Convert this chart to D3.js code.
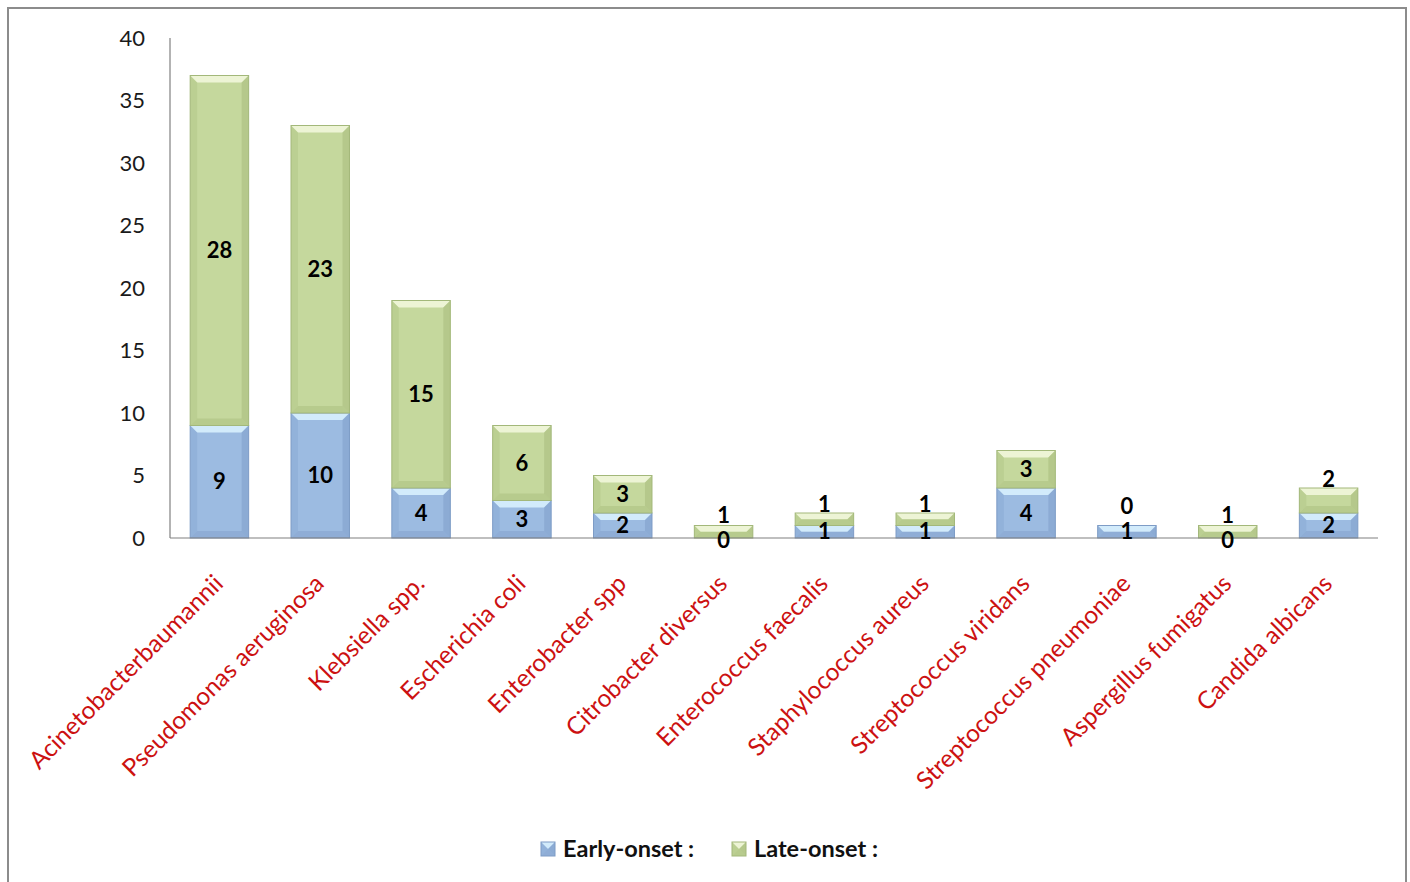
<!DOCTYPE html>
<html>
<head>
<meta charset="utf-8">
<script src="https://cdn.jsdelivr.net/npm/d3@7"></script>
<style>
  body { margin: 0; background: #fff; }
  svg { display: block; font-family: Lato, "Open Sans", sans-serif; }
</style>
</head>
<body>
<svg id="chart" width="1410" height="882"></svg>
<script>
// organisms on the x axis
var organisms = ["Acinetobacterbaumannii", "Pseudomonas aeruginosa", "Klebsiella spp.",
    "Escherichia coli", "Enterobacter spp", "Citrobacter diversus", "Enterococcus faecalis",
    "Staphylococcus aureus", "Streptococcus viridans", "Streptococcus pneumoniae",
    "Aspergillus fumigatus", "Candida albicans"];
// counts
var earlyOnset = [9, 10, 4, 3, 2, 0, 1, 1, 4, 1, 0, 2];
var lateOnset  = [28, 23, 15, 6, 3, 1, 1, 1, 3, 0, 1, 2];
var seriesNames = ["Early-onset :", "Late-onset :"];
var yTicks = [0, 5, 10, 15, 20, 25, 30, 35, 40];

var colors = [
    {fill: "#9cbbe1", light: "#dcf3ff", dark: "#6f8fbd", edge: "#7e9cc6"},
    {fill: "#c5d89d", light: "#f3f9df", dark: "#97ad6b", edge: "#a3b87a"}
];

var svg = d3.select("#chart");
var plotLeft = 170, plotRight = 1378, plotTop = 38, plotBottom = 538;

// outer frame (no bottom edge in the reference)
svg.append("path")
    .attr("d", "M8,882 V8 H1406 V882")
    .attr("fill", "none").attr("stroke", "#8c8c8c").attr("stroke-width", 2);

var xScale = d3.scaleBand().domain(organisms).range([plotLeft, plotRight]).paddingInner(0.42).paddingOuter(0.2);
var yScale = d3.scaleLinear().domain([0, 40]).range([plotBottom, plotTop]);

// stack
var rows = organisms.map(function(o, i) {
    return {name: o, early: earlyOnset[i], late: lateOnset[i]};
});
var series = d3.stack().keys(["early", "late"])(rows);

// y axis
svg.append("line").attr("x1", plotLeft).attr("x2", plotLeft).attr("y1", plotTop).attr("y2", plotBottom)
    .attr("stroke", "#808080").attr("stroke-width", 1.2);
svg.selectAll(".ytick").data(yTicks).enter().append("text")
    .attr("x", 145).attr("y", function(d) { return yScale(d); })
    .attr("dy", "0.35em").attr("text-anchor", "end")
    .attr("font-size", 22).attr("fill", "#1a1a1a")
    .text(function(d) { return d; });

// bars with a simple bevel look
function bevelBar(g, x, y, w, h, c) {
    if (h <= 0) return;
    var b = Math.min(7, h / 2);
    g.append("rect").attr("x", x).attr("y", y).attr("width", w).attr("height", h).attr("fill", c.fill);
    // top light strip
    g.append("path").attr("d", "M" + x + "," + y + "h" + w + "l" + (-b) + "," + b + "h" + (-(w - 2 * b)) + "z")
        .attr("fill", c.light).attr("opacity", 0.85);
    // bottom shade
    g.append("path").attr("d", "M" + x + "," + (y + h) + "h" + w + "l" + (-b) + "," + (-b) + "h" + (-(w - 2 * b)) + "z")
        .attr("fill", c.dark).attr("opacity", 0.3);
    // sides
    g.append("path").attr("d", "M" + x + "," + y + "l" + b + "," + b + "v" + (h - 2 * b) + "l" + (-b) + "," + b + "z")
        .attr("fill", c.dark).attr("opacity", 0.2);
    g.append("path").attr("d", "M" + (x + w) + "," + y + "l" + (-b) + "," + b + "v" + (h - 2 * b) + "l" + b + "," + b + "z")
        .attr("fill", c.dark).attr("opacity", 0.35);
    g.append("rect").attr("x", x).attr("y", y).attr("width", w).attr("height", h)
        .attr("fill", "none").attr("stroke", c.edge).attr("stroke-width", 1);
}

var barG = svg.append("g");
series.forEach(function(s, si) {
    s.forEach(function(d) {
        var y0 = yScale(d[0]), y1 = yScale(d[1]);
        bevelBar(barG, xScale(d.data.name), y1, xScale.bandwidth(), y0 - y1, colors[si]);
    });
});

// x axis line
svg.append("line").attr("x1", plotLeft).attr("x2", plotRight).attr("y1", plotBottom).attr("y2", plotBottom)
    .attr("stroke", "#808080").attr("stroke-width", 1.2);

// value labels
var labelG = svg.append("g").attr("font-size", 22).attr("font-weight", "bold")
    .attr("fill", "#000").attr("text-anchor", "middle");
rows.forEach(function(r) {
    var cx = xScale(r.name) + xScale.bandwidth() / 2;
    var e0 = yScale(0), e1 = yScale(r.early);
    var ey = r.early > 0 ? (e0 + e1) / 2 : e0 + 2;
    labelG.append("text").attr("x", cx).attr("y", ey).attr("dy", "0.35em").text(r.early);
    var l1 = yScale(r.early + r.late);
    var ly = (e1 + l1) / 2;
    if (e1 - l1 < 30) ly = Math.min(l1 - 9, ey - 25);
    labelG.append("text").attr("x", cx).attr("y", ly).attr("dy", "0.35em").text(r.late);
});

// x labels, rotated
svg.selectAll(".xlab").data(organisms).enter().append("text")
    .attr("transform", function(d) {
        return "translate(" + (xScale(d) + xScale.bandwidth() / 2 - 7) + "," + 573 + ") rotate(-45)";
    })
    .attr("text-anchor", "end").attr("dy", "0.7em")
    .attr("font-size", 24.5).attr("fill", "#cc1111")
    .text(function(d) { return d; });

// legend
var legend = svg.append("g").attr("font-size", 23.5).attr("font-weight", "bold");
var legX = [541, 732];
seriesNames.forEach(function(n, i) {
    var g = legend.append("g").attr("transform", "translate(" + legX[i] + ",842)");
    bevelBar(g, 0, 0, 14, 14, colors[i]);
    g.append("text").attr("x", 22).attr("y", 7).attr("dy", "0.36em").attr("fill", "#111").text(n);
});
</script>
</body>
</html>
